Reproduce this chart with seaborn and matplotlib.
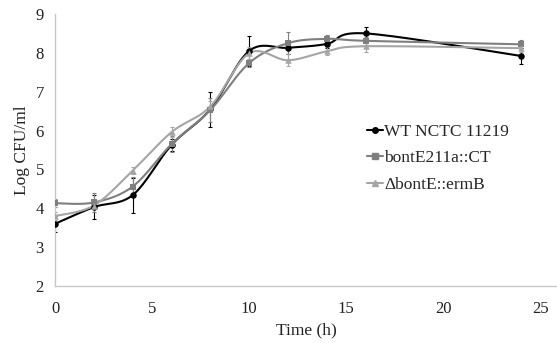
import numpy as np
import pandas as pd
import matplotlib
matplotlib.use("Agg")
import matplotlib.pyplot as plt
import seaborn as sns

time_h = [0, 2, 4, 6, 8, 10, 12, 14, 16, 24]
wt = [3.6, 4.03, 4.34, 5.63, 6.55, 8.05, 8.13, 8.23, 8.50, 7.92]
wt_err = [0.2, 0.3, 0.45, 0.15, 0.45, 0.38, 0.15, 0.1, 0.17, 0.2]
bont211 = [4.13, 4.15, 4.56, 5.65, 6.53, 7.74, 8.25, 8.36, 8.31, 8.22]
bont211_err = [0.1, 0.25, 0.25, 0.2, 0.3, 0.1, 0.28, 0.1, 0.1, 0.1]
dbont = [3.8, 4.07, 4.97, 5.96, 6.62, 7.99, 7.81, 8.04, 8.17, 8.12]
dbont_err = [0.1, 0.1, 0.1, 0.12, 0.15, 0.15, 0.15, 0.1, 0.15, 0.1]
labels = ["WT NCTC 11219", "bontE211a::CT", "\u0394bontE::ermB"]
colors = ["#000000", "#7f7f7f", "#a5a5a5"]
markers = ["o", "s", "^"]

sns.set_style("white")
plt.rcParams["font.family"] = ["Liberation Serif", "DejaVu Serif"]

fig = plt.figure(figsize=(5.57, 3.43), dpi=100)
ax = fig.add_axes([55/557, 1-286/343, 1-55/557, (286-14)/343])


def smooth(x, y, n=20):
    # Excel-like smoothed line (Catmull-Rom bezier through the data points)
    x = np.asarray(x, float); y = np.asarray(y, float)
    px, py = [], []
    for i in range(len(x) - 1):
        x0, y0 = (x[i-1], y[i-1]) if i > 0 else (x[i], y[i])
        x3, y3 = (x[i+2], y[i+2]) if i + 2 < len(x) else (x[i+1], y[i+1])
        x1, y1, x2, y2 = x[i], y[i], x[i+1], y[i+1]
        c1x = x1 + (x2 - x0) / 6; c1y = y1 + (y2 - y0) / 6
        c2x = x2 - (x3 - x1) / 6; c2y = y2 - (y3 - y1) / 6
        t = np.linspace(0, 1, n, endpoint=(i == len(x) - 2))
        bx = (1-t)**3*x1 + 3*(1-t)**2*t*c1x + 3*(1-t)*t**2*c2x + t**3*x2
        by = (1-t)**3*y1 + 3*(1-t)**2*t*c1y + 3*(1-t)*t**2*c2y + t**3*y2
        px.extend(bx); py.extend(by)
    return np.array(px), np.array(py)

series = [(wt, wt_err), (bont211, bont211_err), (dbont, dbont_err)]
handles = []
for (vals, errs), lab, col, mk in zip(series, labels, colors, markers):
    sx, sy = smooth(time_h, vals)
    ax.plot(sx, sy, color=col, lw=1.5, zorder=3)
    ax.errorbar(time_h, vals, yerr=errs, fmt="none", ecolor=col, elinewidth=0.8,
                capsize=1.5, capthick=0.8, zorder=2)
    df = pd.DataFrame({"t": time_h, "v": vals})
    sns.scatterplot(data=df, x="t", y="v", ax=ax, color=col, marker=mk, s=22,
                    edgecolor=col, linewidth=0, zorder=4)
    h, = ax.plot([], [], color=col, marker=mk, ms=4, lw=1.5)
    handles.append(h)

ax.set_xlim(0, 25.85)
ax.set_ylim(2, 9)
ax.set_xticks([0, 5, 10, 15, 20, 25])
ax.set_yticks(range(2, 10))
ax.tick_params(axis="x", labelsize=12, length=0, pad=11, colors="#222222")
ax.tick_params(axis="y", labelsize=12, length=0, pad=8, colors="#222222")
ax.set_xlabel("Time (h)", fontsize=12.5, color="#222222", labelpad=4)
ax.set_ylabel("Log CFU/ml", fontsize=12.5, color="#222222", labelpad=4)
for s in ["top", "right"]:
    ax.spines[s].set_visible(False)
for s in ["left", "bottom"]:
    ax.spines[s].set_color("#c8c8c8")
    ax.spines[s].set_linewidth(1.0)

leg = ax.legend(handles, labels, loc="upper left", bbox_to_anchor=(367/557, 1-124/343),
                bbox_transform=fig.transFigure, frameon=False, fontsize=12.5,
                handlelength=0.9, handletextpad=0.1, labelspacing=0.58, borderpad=0,
                borderaxespad=0)

fig.savefig("out.png", dpi=100)
